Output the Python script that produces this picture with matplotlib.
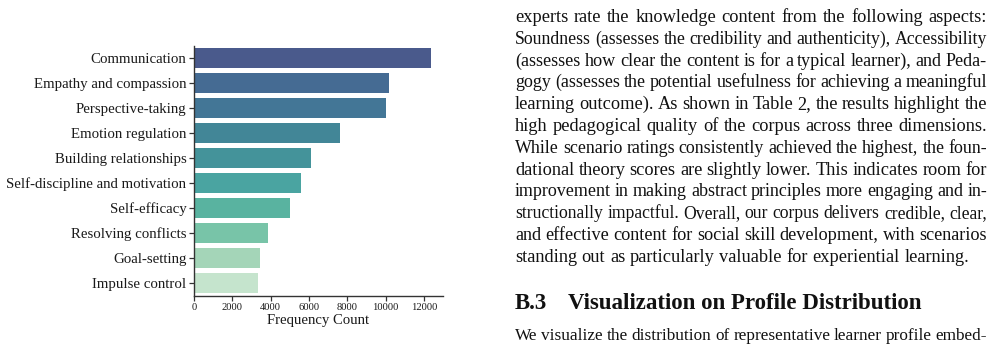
import matplotlib
matplotlib.use("Agg")
import matplotlib.pyplot as plt

# ---- chart data ----
categories = ["Communication", "Empathy and compassion", "Perspective-taking",
              "Emotion regulation", "Building relationships",
              "Self-discipline and motivation", "Self-efficacy",
              "Resolving conflicts", "Goal-setting", "Impulse control"]
counts = [12380, 10190, 10040, 7600, 6090, 5570, 5000, 3860, 3440, 3340]
bar_colors = ["#4a5a8c", "#456b93", "#437696", "#428697", "#44939a",
              "#4aa4a1", "#59b3a0", "#78c4a8", "#a4d5b8", "#c5e4cd"]
xticks = [0, 2000, 4000, 6000, 8000, 10000, 12000]
xlabel = "Frequency Count"

# ---- surrounding page text ----
body_lines = [
    "experts rate the knowledge content from the following aspects:",
    "Soundness (assesses the credibility and authenticity), Accessibility",
    "(assesses how clear the content is for a typical learner), and Peda-",
    "gogy (assesses the potential usefulness for achieving a meaningful",
    "learning outcome). As shown in Table 2, the results highlight the",
    "high pedagogical quality of the corpus across three dimensions.",
    "While scenario ratings consistently achieved the highest, the foun-",
    "dational theory scores are slightly lower. This indicates room for",
    "improvement in making abstract principles more engaging and in-",
    "structionally impactful. Overall, our corpus delivers credible, clear,",
    "and effective content for social skill development, with scenarios",
    "standing out as particularly valuable for experiential learning.",
]
heading_num = "B.3"
heading_text = "Visualization on Profile Distribution"
after_line = "We visualize the distribution of representative learner profile embed-"

W, H = 1004, 348
fig = plt.figure(figsize=(W / 100, H / 100), dpi=100)
serif = ["Liberation Serif", "DejaVu Serif"]

ax = fig.add_axes([194 / W, 1 - 295.5 / H, (443 - 194) / W, 250 / H])
ypos = list(range(len(categories)))
ax.barh(ypos, counts, height=0.8, color=bar_colors)
ax.set_ylim(len(categories) - 0.5, -0.5)
ax.set_xlim(0, 12990)
ax.set_yticks(ypos)
ax.set_yticklabels(categories, family=serif, fontsize=10.7, color="#1a1a1a")
ax.set_xticks(xticks)
ax.set_xticklabels([str(v) for v in xticks], family=serif, fontsize=7.6, color="#1a1a1a")
ax.set_xlabel(xlabel, family=serif, fontsize=10.6, color="#1a1a1a", labelpad=1)
for s in ["top", "right"]:
    ax.spines[s].set_visible(False)
for s in ["left", "bottom"]:
    ax.spines[s].set_color("#333333")
    ax.spines[s].set_linewidth(1.0)
ax.tick_params(axis="both", length=3.5, width=0.9, color="#333333", pad=2)

# ---- justified page text ----
renderer = fig.canvas.get_renderer()


def word_width(word, size, weight="normal"):
    t = fig.text(0, 0, word, fontsize=size, family=serif, weight=weight)
    w = t.get_window_extent(renderer).width
    t.remove()
    return w


def draw_line(line, x0, x1, base_y, size, justify=True, weight="normal"):
    words = line.split(" ")
    space = word_width("a a", size, weight) - 2 * word_width("a", size, weight)
    widths = [word_width(w, size, weight) for w in words]
    natural = sum(widths) + 0.85 * space * (len(words) - 1)
    if justify and natural > (x1 - x0):
        size = size * (x1 - x0) / natural
        space = word_width("a a", size, weight) - 2 * word_width("a", size, weight)
        widths = [word_width(w, size, weight) for w in words]
    if justify and len(words) > 1:
        gap = (x1 - x0 - sum(widths)) / (len(words) - 1)
    else:
        gap = space
    x = x0
    for w, wd in zip(words, widths):
        fig.text(x / W, 1 - base_y / H, w, fontsize=size, family=serif,
                 weight=weight, color="#111111", va="baseline", ha="left")
        x += wd + gap


X0, X1 = 515, 987
body_size = 13.2
for i, line in enumerate(body_lines):
    last = i == len(body_lines) - 1
    draw_line(line, X0, X1, 22 + 21.8 * i, body_size, justify=not last)

fig.text(X0 / W, 1 - 309 / H, heading_num, fontsize=16.5, family=serif,
         weight="bold", color="#111111", va="baseline")
fig.text(568 / W, 1 - 309 / H, heading_text, fontsize=16.5, family=serif,
         weight="bold", color="#111111", va="baseline")
draw_line(after_line, X0, X1, 340.5, body_size, justify=True)

fig.savefig("out.png", dpi=100, facecolor="white")
